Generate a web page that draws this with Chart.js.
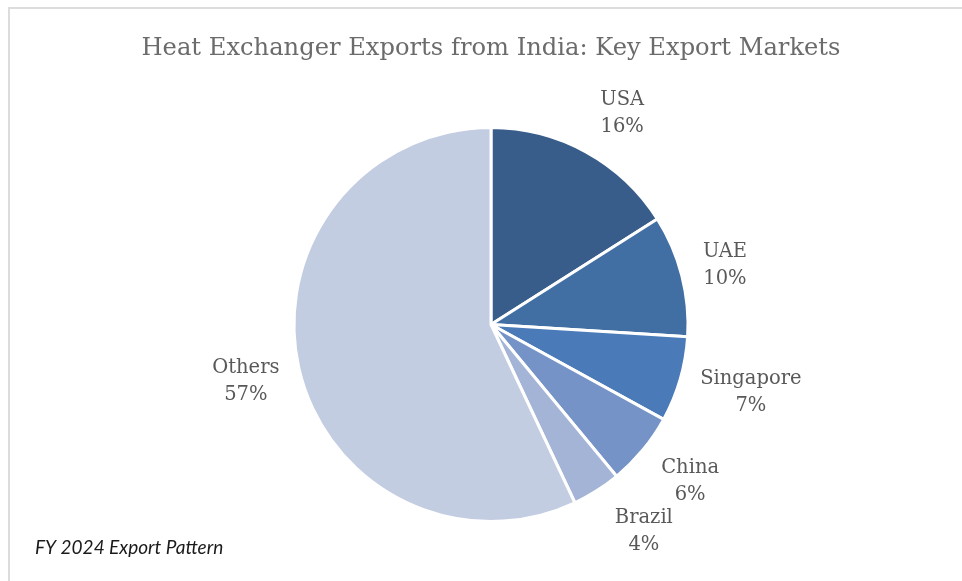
<!DOCTYPE html>
<html lang="en">
  <head>
    <meta charset="UTF-8" />
    <title>Heat Exchanger Exports from India</title>
    <script src="https://cdn.jsdelivr.net/npm/chart.js"></script>
    <style>
      * {
        margin: 0;
        padding: 0;
        box-sizing: border-box;
      }

      html,
      body {
        background: #ffffff;
        width: 962px;
        height: 581px;
        overflow: hidden;
      }

      /* chart frame: only the top and left edges fall inside the page */
      .edge-top {
        position: absolute;
        left: 8px;
        top: 7px;
        width: 954px;
        height: 2px;
        background: #dcdcdc;
      }

      .edge-left {
        position: absolute;
        left: 8px;
        top: 7px;
        width: 2px;
        height: 574px;
        background: #dcdcdc;
      }

      #chartWrap {
        position: absolute;
        left: 0;
        top: 0;
        width: 962px;
        height: 581px;
      }
    </style>
  </head>
  <body>
    <div class="edge-top"></div>
    <div class="edge-left"></div>
    <div id="chartWrap">
      <canvas id="exportChart"></canvas>
    </div>
    <script>
      // Export share by market, FY 2024 (percent)
      const markets = ["USA", "UAE", "Singapore", "China", "Brazil", "Others"];
      const shares = [16, 10, 7, 6, 4, 57];
      const sliceColors = ["#385d8a", "#416ea3", "#4a7bb8", "#7593c6", "#a3b4d6", "#c3cde2"];

      const titleText = "Heat Exchanger Exports from India: Key Export Markets";
      const noteText = "FY 2024 Export Pattern";

      const labelFont = '19.5px "DejaVu Serif", serif';
      const labelColor = "#595959";
      // small hand tweaks so labels sit like the best-fit layout
      const labelNudge = [[12, 6], [-1, 1], [0, -8], [4, -4], [18, -6], [2, 2]];

      // draws the title, the footnote and the outside "name / pct" labels
      const outsideLabels = {
        id: "outsideLabels",
        afterDraw(chart) {
          const ctx = chart.ctx;
          ctx.save();

          ctx.fillStyle = "#6b6b6b";
          ctx.font = '24.2px "DejaVu Serif", serif';
          ctx.textAlign = "center";
          ctx.textBaseline = "alphabetic";
          ctx.fillText(titleText, 491, 55);

          ctx.fillStyle = "#1a1a1a";
          ctx.font = 'italic 19px "Lato", sans-serif';
          ctx.textAlign = "left";
          ctx.fillText(noteText, 35, 554);

          const meta = chart.getDatasetMeta(0);
          const total = shares.reduce((a, b) => a + b, 0);
          ctx.font = labelFont;
          ctx.fillStyle = labelColor;
          ctx.textAlign = "center";
          ctx.textBaseline = "middle";
          const lineGap = 27;

          meta.data.forEach((arc, i) => {
            const mid = (arc.startAngle + arc.endAngle) / 2;
            const name = markets[i];
            const pct = Math.round((shares[i] / total) * 100) + "%";
            const hw = Math.max(ctx.measureText(name).width, ctx.measureText(pct).width) / 2;
            const hh = 25;
            // distance keeps the text block clear of the rim
            const dist =
              arc.outerRadius + 18 + hw * Math.abs(Math.cos(mid)) + hh * Math.abs(Math.sin(mid));
            const cx = arc.x + Math.cos(mid) * dist + labelNudge[i][0];
            const cy = arc.y + Math.sin(mid) * dist + labelNudge[i][1];
            ctx.fillText(name, cx, cy - lineGap / 2);
            ctx.fillText(pct, cx, cy + lineGap / 2);
          });

          ctx.restore();
        },
      };

      const ctx = document.getElementById("exportChart").getContext("2d");

      new Chart(ctx, {
        type: "pie",
        data: {
          labels: markets,
          datasets: [
            {
              data: shares,
              backgroundColor: sliceColors,
              borderColor: "#ffffff",
              borderWidth: 3,
            },
          ],
        },
        options: {
          responsive: true,
          maintainAspectRatio: false,
          animation: false,
          layout: {
            padding: { left: 292, right: 272, top: 126, bottom: 58 },
          },
          plugins: {
            legend: { display: false },
            title: { display: false },
            tooltip: { enabled: false },
          },
        },
        plugins: [outsideLabels],
      });
    </script>
  </body>
</html>
